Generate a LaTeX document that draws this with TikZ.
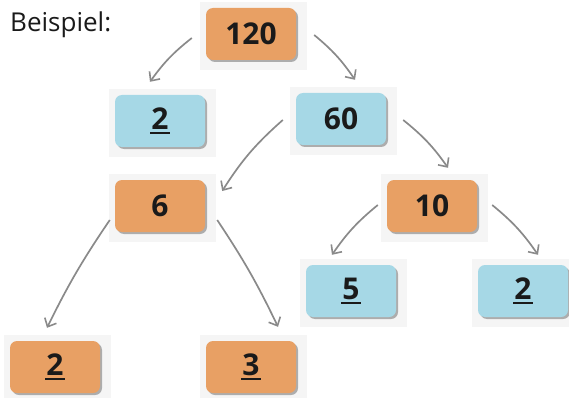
\documentclass[tikz,border=0pt]{standalone}
\usepackage{fontspec}
\setmainfont{Open Sans}
\usetikzlibrary{arrows.meta,shadows,calc,backgrounds}
\definecolor{boxorange}{HTML}{E8A064}
\definecolor{boxblue}{HTML}{A6D8E6}
\definecolor{arrowgray}{HTML}{8A8A8A}
\definecolor{txt}{HTML}{1A1A1A}
\newcommand\ulnum[1]{\setbox0\hbox{#1}\rlap{\hspace{-1pt}\rule[-5pt]{\dimexpr\wd0+2pt\relax}{2.4pt}}\box0}
\tikzset{
  numbox/.style={rectangle, rounded corners=7pt, minimum width=90pt, minimum height=52pt,
    inner sep=0pt, text=txt, font=\fontsize{30}{34}\selectfont\bfseries,
    drop shadow={shadow xshift=2pt, shadow yshift=-2pt, opacity=0.5, fill=black!60}},
  orangebox/.style={numbox, fill=boxorange},
  bluebox/.style={numbox, fill=boxblue},
  conn/.style={draw=arrowgray, line width=1.7pt,
    -{Straight Barb[length=7pt,width=13pt,line width=1.6pt]}},
  halo/.style={fill=black!4}
}
\begin{document}
\begin{tikzpicture}[x=1pt,y=-1pt]
\useasboundingbox (0,0) rectangle (569,398);
\node[anchor=base west, font=\fontsize{26}{30}\selectfont, text=txt, inner sep=0pt] (title) at (10,32) {Beispiel:};
\node[orangebox] (n120) at (251,34) {120};
\node[bluebox] (n2a) at (160,121) {\ulnum{2}};
\node[bluebox] (n60) at (341,119) {60};
\node[orangebox] (n6) at (160,206) {6};
\node[orangebox] (n10) at (432,206) {10};
\node[bluebox] (n5) at (351,291) {\ulnum{5}};
\node[bluebox] (n2b) at (523,291) {\ulnum{2}};
\node[orangebox] (n2c) at (55,367) {\ulnum{2}};
\node[orangebox] (n3) at (251,367) {\ulnum{3}};
\begin{scope}[on background layer]
\foreach \n in {n120,n2a,n60,n6,n10,n5,n2b,n2c,n3}
  \fill[halo] ($(\n.south west)+(-6,10)$) rectangle ($(\n.north east)+(11,-6)$);
\end{scope}
\draw[conn] ($(n120.west)+(-14,4)$) to[bend right=8] ($(n2a.north)+(-10,-13)$);
\draw[conn] ($(n120.east)+(18,1)$) to[bend left=8] ($(n60.north)+(14,-13)$);
\draw[conn] ($(n60.west)+(-13,1)$) to[bend right=8] ($(n6.east)+(17,-15)$);
\draw[conn] ($(n60.east)+(17,1)$) to[bend left=8] ($(n10.north)+(16,-12)$);
\draw[conn] ($(n10.west)+(-9,-1)$) to[bend right=8] ($(n5.north)+(-19,-10)$);
\draw[conn] ($(n10.east)+(15,-1)$) to[bend left=8] ($(n2b.north)+(15,-10)$);
\draw[conn] ($(n6.west)+(-5,14)$) to[bend right=4] ($(n2c.north)+(-8,-13)$);
\draw[conn] ($(n6.east)+(12,14)$) to[bend left=4] ($(n3.north)+(27,-14)$);
\end{tikzpicture}
\end{document}
